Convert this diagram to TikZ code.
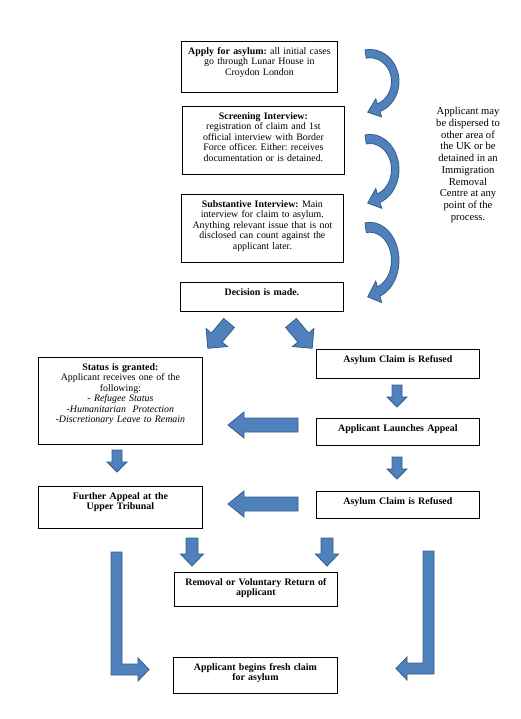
\documentclass[tikz,border=0pt]{standalone}
\usepackage{fontspec}
\setmainfont{Liberation Serif}
\frenchspacing
\usetikzlibrary{positioning}
\definecolor{arrowfill}{HTML}{4F81BD}
\definecolor{arrowline}{HTML}{385D8A}
\tikzset{
  box/.style={draw, line width=0.8pt, anchor=north west, align=center, inner sep=0pt,
    text height=13pt, font=\fontsize{9.9}{10.5}\selectfont},
  arrowbody/.style={fill=arrowfill, draw=arrowline, line width=0.8pt},
  pics/blockarrow/.style args={#1/#2/#3/#4}{code={
    \filldraw[arrowbody](0,-#2)--(#1-#4,-#2)--(#1-#4,-#3)--(#1,0)--(#1-#4,#3)--(#1-#4,#2)--(0,#2)--cycle;}},
  pics/bendarrow/.style={code={
    \filldraw[arrowbody] plot[domain=100:-70,samples=30]({cos(\x)},{sin(\x)})
      --({1.18*cos(-70)},{1.18*sin(-70)})--(-0.08,-0.96)--({0.58*cos(-70)},{0.58*sin(-70)})
      --plot[domain=-70:100,samples=30]({0.74*cos(\x)},{0.74*sin(\x)})--cycle;}}
}
\begin{document}
\begin{tikzpicture}[x=1pt,y=-1pt]
  \useasboundingbox(0,0)rectangle(520,719);
  \node[box, text width=156pt, text depth=38pt](apply)at(181,41)
    {\textbf{Apply for asylum:} all initial cases\\ go through Lunar House in\\ Croydon London};
  \node[box, text width=162pt, text depth=55pt](screen)at(182,106)
    {\textbf{Screening Interview:}\\ registration of claim and 1st\\ official interview with Border\\
     Force officer. Either: receives\\ documentation or is detained.};
  \node[box, text width=162pt, text depth=55pt](subst)at(181,194)
    {\textbf{Substantive Interview:} Main\\ interview for claim to asylum.\\
     Anything relevant issue that is not\\ disclosed can count against the\\ applicant later.};
  \node[box, text width=163pt, text depth=16pt](decide)at(180,282){\textbf{Decision is made.}};
  \node[box, text width=164pt, text depth=74pt](granted)at(38,357)
    {\textbf{Status is granted:}\\ Applicant receives one of the\\ following:\\ \textit{- Refugee Status}\\
     \textit{-Humanitarian\ \ Protection}\\ \textit{-Discretionary Leave to Remain}};
  \node[box, text width=163pt, text depth=16pt](refused)at(316,349){\textbf{Asylum Claim is Refused}};
  \node[box, text width=163pt, text depth=14pt](appeal)at(316,418){\textbf{Applicant Launches Appeal}};
  \node[box, text width=163pt, text depth=14pt](refusedagain)at(316,491){\textbf{Asylum Claim is Refused}};
  \node[box, text width=164pt, text depth=29pt](upper)at(38,486)
    {\textbf{Further Appeal at the}\\ \textbf{Upper Tribunal}};
  \node[box, text width=163pt, text depth=21pt](removal)at(174,572)
    {\textbf{Removal or Voluntary Return of}\\ \textbf{applicant}};
  \node[box, text width=164pt, text depth=23pt](fresh)at(173,657)
    {\textbf{Applicant begins fresh claim}\\ \textbf{for asylum}};
  \node[align=center, font=\fontsize{10.6}{11.7}\selectfont](note)at(468,165)
    {Applicant may\\ be dispersed to\\ other area of\\ the UK or be\\ detained in an\\ Immigration\\
     Removal\\ Centre at any\\ point of the\\ process.};
  \foreach \y/\r in {81.5/32,169.5/35,260.4/38}
    \pic[xscale=29,yscale=-\r]at(370,\y){bendarrow};
  \pic[rotate=-130]at(229,323){blockarrow={33/7/14/14}};
  \pic[rotate=-50]at(291,323){blockarrow={33/7/14/14}};
  \foreach \y in {425,504}
    \pic[rotate=180]at(298,\y){blockarrow={70/7/13/16}};
  \foreach \x/\y in {117/450,397/385,397/457}
    \pic[rotate=-90]at(\x,\y){blockarrow={22/5/10/10}};
  \foreach \x in {192,327}
    \pic[rotate=-90]at(\x,538){blockarrow={28/6/11.5/12}};
  \filldraw[arrowbody](111,552)--(122,552)--(122,664)--(138,664)--(138,658)--(149,669.5)
    --(138,681)--(138,675)--(111,675)--cycle;
  \filldraw[arrowbody](423,551)--(434,551)--(434,674)--(407,674)--(407,680)--(396,668.5)
    --(407,657)--(407,663)--(423,663)--cycle;
\end{tikzpicture}
\end{document}
